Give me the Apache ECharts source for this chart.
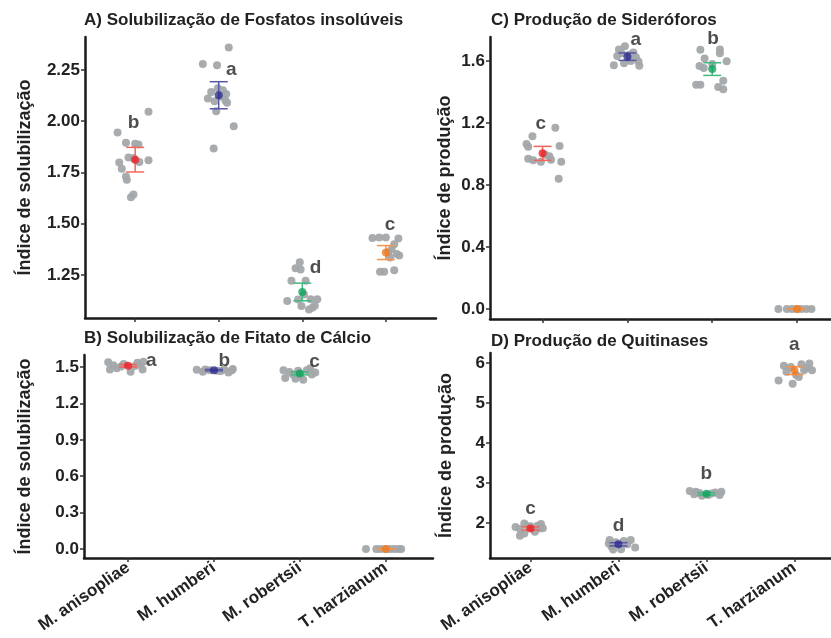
<!DOCTYPE html>
<html>
<head>
<meta charset="utf-8">
<script src="https://cdn.jsdelivr.net/npm/echarts@6/dist/echarts.min.js"></script>
<style>
  html, body { margin: 0; padding: 0; background: #fff; }
  #chart-container { width: 831px; height: 638px; }
</style>
</head>
<body>
<div id="chart-container"></div>
<script>
var species = ['M. anisopliae', 'M. humberi', 'M. robertsii', 'T. harzianum'];
var meanColors = ['#e8202a', '#2e2e8e', '#12a45c', '#f07a20'];
var barColors = ['#f2665a', '#5858a8', '#40b880', '#f5934a'];

// A) fosfatos: [jitter, valor] por espécie
var fosfatoPts = [
  [[0.16, 2.046], [-0.21, 1.945], [-0.11, 1.895], [0.00, 1.890], [0.04, 1.886], [-0.08, 1.822], [-0.19, 1.798], [0.16, 1.809],
   [-0.16, 1.768], [-0.11, 1.730], [-0.10, 1.714], [-0.02, 1.642], [-0.05, 1.629], [-0.02, 1.820], [0.05, 1.800]],
  [[0.12, 2.359], [-0.19, 2.278], [-0.02, 2.272], [-0.09, 2.142], [-0.13, 2.110], [0.05, 2.150], [0.09, 2.132], [0.08, 2.100],
   [0.10, 2.090], [-0.05, 2.097], [-0.03, 2.048], [0.18, 1.975], [-0.06, 1.866], [-0.01, 2.160], [0.03, 2.120]],
  [[-0.03, 1.312], [-0.08, 1.283], [-0.02, 1.276], [-0.13, 1.222], [0.04, 1.222], [-0.18, 1.123], [-0.01, 1.098], [0.10, 1.131],
   [0.18, 1.131], [0.12, 1.090], [0.08, 1.082], [0.15, 1.100], [0.02, 1.155], [-0.05, 1.130]],
  [[-0.16, 1.430], [-0.08, 1.432], [0.00, 1.433], [0.15, 1.428], [0.07, 1.376], [0.13, 1.352], [0.16, 1.345], [0.05, 1.335],
   [-0.07, 1.266], [-0.02, 1.266], [0.10, 1.273], [0.10, 1.400], [0.03, 1.360]]
];
var fosfatoMean = [1.812, 2.126, 1.167, 1.359];
var fosfatoErr = [0.060, 0.066, 0.043, 0.034];
var fosfatoLetters = ['b', 'a', 'd', 'c'];
var fosfatoLetterAt = [[-0.02, 1.99], [0.15, 2.25], [0.16, 1.286], [0.05, 1.495]];

// B) fitato de cálcio
var fitatoPts = [
  [[-0.23, 1.540], [-0.21, 1.480], [-0.13, 1.490], [-0.05, 1.525], [0.03, 1.462], [0.11, 1.536], [0.17, 1.480], [0.18, 1.545],
   [-0.08, 1.505], [0.08, 1.510], [0.14, 1.520], [-0.17, 1.515]],
  [[-0.20, 1.478], [-0.13, 1.462], [-0.05, 1.475], [0.04, 1.470], [0.12, 1.482], [0.17, 1.455], [0.21, 1.475], [0.08, 1.468],
   [0.22, 1.485], [-0.10, 1.480]],
  [[-0.19, 1.475], [-0.17, 1.410], [-0.08, 1.440], [-0.05, 1.405], [0.04, 1.395], [0.08, 1.475], [0.14, 1.440], [0.12, 1.490],
   [-0.12, 1.460], [0.00, 1.430], [0.18, 1.455], [-0.02, 1.470]],
  [[-0.23, 0], [-0.11, 0], [-0.06, 0], [0.00, 0], [0.05, 0], [0.10, 0], [0.15, 0], [0.18, 0]]
];
var fitatoMean = [1.511, 1.475, 1.448, 0];
var fitatoErr = [0.010, 0.006, 0.012, 0];
var fitatoLetters = ['a', 'b', 'c', ''];
var fitatoLetterAt = [[0.27, 1.552], [0.12, 1.552], [0.17, 1.544], [0, 0]];

// C) sideróforos
var sideroPts = [
  [[0.15, 1.170], [-0.12, 1.115], [-0.19, 1.065], [-0.17, 1.047], [0.20, 1.052], [-0.17, 0.970], [-0.11, 0.960], [-0.02, 0.950],
   [0.08, 0.985], [0.10, 0.962], [0.22, 0.950], [0.19, 0.840], [0.03, 0.995]],
  [[-0.16, 1.572], [-0.12, 1.632], [-0.10, 1.675], [-0.03, 1.695], [-0.04, 1.585], [0.07, 1.655], [0.13, 1.597], [0.14, 1.570],
   [0.10, 1.625], [-0.07, 1.650], [0.04, 1.600], [0.02, 1.640]],
  [[-0.14, 1.672], [0.09, 1.674], [0.09, 1.650], [0.17, 1.598], [-0.09, 1.617], [-0.15, 1.568], [-0.10, 1.555], [-0.19, 1.447],
   [-0.14, 1.447], [0.13, 1.472], [0.07, 1.432], [0.13, 1.417], [0.00, 1.580]],
  [[-0.22, 0], [-0.12, 0], [-0.06, 0], [0.00, 0], [0.05, 0], [0.11, 0], [0.17, 0]]
];
var sideroMean = [1.004, 1.628, 1.548, 0];
var sideroErr = [0.045, 0.024, 0.041, 0];
var sideroLetters = ['c', 'a', 'b', ''];
var sideroLetterAt = [[-0.02, 1.193], [0.10, 1.74], [0.01, 1.746], [0, 0]];

// D) quitinases
var quitinasePts = [
  [[-0.17, 1.90], [-0.07, 1.99], [0.12, 1.975], [0.14, 1.87], [0.05, 1.78], [-0.12, 1.68], [-0.07, 1.74], [0.08, 1.93],
   [-0.12, 1.85], [0.00, 1.92], [0.10, 1.86], [-0.03, 1.91]],
  [[-0.10, 1.575], [-0.11, 1.49], [0.14, 1.575], [0.19, 1.39], [-0.06, 1.34], [0.03, 1.345], [0.10, 1.47], [-0.03, 1.52],
   [0.06, 1.55], [-0.08, 1.41]],
  [[-0.19, 2.80], [-0.12, 2.78], [-0.14, 2.72], [-0.05, 2.68], [0.02, 2.70], [0.10, 2.76], [0.17, 2.78], [0.15, 2.70],
   [0.06, 2.74], [-0.08, 2.75]],
  [[-0.12, 5.93], [-0.04, 5.90], [0.08, 5.97], [0.17, 5.99], [0.20, 5.82], [0.11, 5.82], [0.02, 5.70], [-0.18, 5.56],
   [-0.02, 5.48], [-0.09, 5.78], [0.05, 5.65], [0.14, 5.88]]
];
var quitinaseMean = [1.865, 1.467, 2.73, 5.81];
var quitinaseErr = [0.04, 0.04, 0.03, 0.10];
var quitinaseLetters = ['c', 'd', 'b', 'a'];
var quitinaseLetterAt = [[0, 2.35], [0, 1.925], [0, 3.225], [0, 6.45]];

var fontFamily = 'Liberation Sans, Arial, sans-serif';
var dom = document.getElementById('chart-container');
var myChart = echarts.init(dom, null, { renderer: 'canvas' });

var panels = [
  { title: 'A) Solubilização de Fosfatos insolúveis', tLeft: 84, tTop: 12, grid: { left: 85, top: 37, width: 351, height: 281 },
    xMin: 0.4, xMax: 4.6, yMin: 1.04, yMax: 2.41, ticks: [1.25, 1.5, 1.75, 2.0, 2.25], dec: 2,
    yName: 'Índice de solubilização', nameGap: 51, showX: false,
    pts: fosfatoPts, mean: fosfatoMean, err: fosfatoErr, letters: fosfatoLetters, letterAt: fosfatoLetterAt },
  { title: 'B) Solubilização de Fitato de Cálcio', tLeft: 84, tTop: 330, grid: { left: 84, top: 355, width: 349, height: 203 },
    xMin: 0.488, xMax: 4.55, yMin: -0.075, yMax: 1.6, ticks: [0, 0.3, 0.6, 0.9, 1.2, 1.5], dec: 1,
    yName: 'Índice de solubilização', nameGap: 50, showX: true,
    pts: fitatoPts, mean: fitatoMean, err: fitatoErr, letters: fitatoLetters, letterAt: fitatoLetterAt },
  { title: 'C) Produção de Sideróforos', tLeft: 491, tTop: 12, grid: { left: 490, top: 37, width: 345, height: 282 },
    xMin: 0.38, xMax: 4.4, yMin: -0.065, yMax: 1.755, ticks: [0, 0.4, 0.8, 1.2, 1.6], dec: 1,
    yName: 'Índice de produção', nameGap: 36, showX: false,
    pts: sideroPts, mean: sideroMean, err: sideroErr, letters: sideroLetters, letterAt: sideroLetterAt },
  { title: 'D) Produção de Quitinases', tLeft: 491, tTop: 333, grid: { left: 490, top: 353, width: 345, height: 205 },
    xMin: 0.54, xMax: 4.416, yMin: 1.125, yMax: 6.25, ticks: [2, 3, 4, 5, 6], dec: 0,
    yName: 'Índice de produção', nameGap: 35, showX: true,
    pts: quitinasePts, mean: quitinaseMean, err: quitinaseErr, letters: quitinaseLetters, letterAt: quitinaseLetterAt }
];

var axisLine = { show: true, onZero: false, lineStyle: { color: '#1a1a1a', width: 2.5 } };
var axisTick = { show: true, length: 4, lineStyle: { color: '#333', width: 1.5 } };

var option = {
  animation: false,
  title: [], grid: [], xAxis: [], yAxis: [], series: []
};

panels.forEach(function (p, g) {
  option.title.push({
    text: p.title, left: p.tLeft, top: p.tTop, padding: 0,
    textStyle: { fontFamily: fontFamily, fontWeight: 'bold', fontSize: 17, color: '#222' }
  });
  option.grid.push(p.grid);
  option.xAxis.push({
    type: 'value', gridIndex: g, min: p.xMin, max: p.xMax,
    splitLine: { show: false },
    axisLine: axisLine,
    axisTick: Object.assign({ customValues: [1, 2, 3, 4] }, axisTick),
    axisLabel: {
      show: p.showX, customValues: [1, 2, 3, 4], rotate: 35, margin: 8,
      fontFamily: fontFamily, fontWeight: 'bold', fontSize: 17, color: '#222',
      formatter: function (v) { return species[Math.round(v) - 1]; }
    }
  });
  option.yAxis.push({
    type: 'value', gridIndex: g, min: p.yMin, max: p.yMax,
    name: p.yName, nameLocation: 'middle', nameGap: p.nameGap,
    nameTextStyle: { fontFamily: fontFamily, fontWeight: 'bold', fontSize: 18, color: '#222' },
    splitLine: { show: false },
    axisLine: axisLine,
    axisTick: Object.assign({ customValues: p.ticks }, axisTick),
    axisLabel: {
      customValues: p.ticks, margin: 5,
      fontFamily: fontFamily, fontWeight: 'bold', fontSize: 17, color: '#222',
      formatter: function (v) { return v.toFixed(p.dec); }
    }
  });

  // pontos individuais (cinza)
  var grey = [];
  p.pts.forEach(function (arr, i) {
    arr.forEach(function (d) { grey.push([i + 1 + d[0], d[1]]); });
  });
  option.series.push({
    type: 'scatter', xAxisIndex: g, yAxisIndex: g, data: grey,
    symbolSize: 8, itemStyle: { color: '#a3a8aa', opacity: 0.95 }, z: 2
  });

  // barras de erro
  option.series.push({
    type: 'custom', xAxisIndex: g, yAxisIndex: g, z: 3,
    data: p.mean.map(function (m, i) { return [i + 1, m - p.err[i], m + p.err[i], i]; }),
    encode: { x: 0, y: [1, 2] },
    renderItem: function (params, api) {
      var lo = api.coord([api.value(0), api.value(1)]);
      var hi = api.coord([api.value(0), api.value(2)]);
      var st = { stroke: barColors[api.value(3)], lineWidth: 1.5 };
      var w = 9;
      return {
        type: 'group', children: [
          { type: 'line', shape: { x1: lo[0], y1: lo[1], x2: hi[0], y2: hi[1] }, style: st },
          { type: 'line', shape: { x1: lo[0] - w, y1: lo[1], x2: lo[0] + w, y2: lo[1] }, style: st },
          { type: 'line', shape: { x1: hi[0] - w, y1: hi[1], x2: hi[0] + w, y2: hi[1] }, style: st }
        ]
      };
    }
  });

  // médias
  option.series.push({
    type: 'scatter', xAxisIndex: g, yAxisIndex: g, z: 4, symbolSize: 8,
    data: p.mean.map(function (m, i) { return { value: [i + 1, m], itemStyle: { color: meanColors[i] } }; })
  });

  // letras
  option.series.push({
    type: 'scatter', xAxisIndex: g, yAxisIndex: g, z: 5, symbolSize: 0, clip: false,
    data: p.letters.map(function (l, i) {
      return { value: [i + 1 + p.letterAt[i][0], p.letterAt[i][1]], name: l };
    }),
    label: {
      show: true, position: 'inside', formatter: '{b}',
      fontFamily: fontFamily, fontWeight: 'bold', fontSize: 19, color: '#222'
    }
  });
});

myChart.setOption(option);
window.addEventListener('resize', myChart.resize);
</script>
</body>
</html>
